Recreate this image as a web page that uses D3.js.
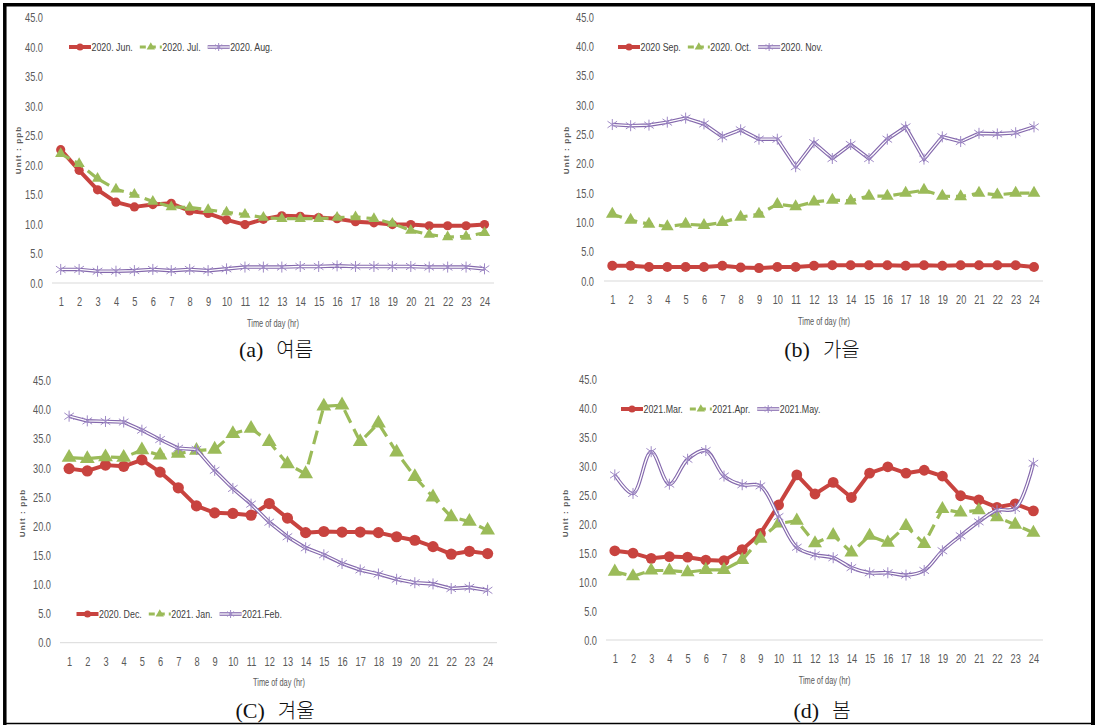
<!DOCTYPE html>
<html><head><meta charset="utf-8">
<script src="https://cdn.jsdelivr.net/npm/d3@7"></script>
<style>
body{margin:0;background:#fff;}
svg{display:block;}
.ax text{font-family:"Liberation Sans",Arial,sans-serif;fill:#595959;}
.leg{font-family:"Liberation Sans",Arial,sans-serif;font-size:11.5px;fill:#404040;}
.ttl{font-family:"Liberation Sans",Arial,sans-serif;font-size:10px;fill:#595959;}
.unit{font-family:"Liberation Sans",Arial,sans-serif;font-size:8px;font-weight:bold;fill:#595959;}
.cap{font-family:"Liberation Serif","Noto Sans CJK KR",serif;font-size:22px;fill:#111;}
</style></head><body>
<svg id="chart" width="1097" height="727"></svg>
<script>
// ---- data ----
const hours = [1,2,3,4,5,6,7,8,9,10,11,12,13,14,15,16,17,18,19,20,21,22,23,24];
const yTicks = [0,5,10,15,20,25,30,35,40,45];

const summerNames = ["2020. Jun.","2020. Jul.","2020. Aug."];
const jun = [22.6,19.1,15.8,13.7,12.9,13.3,13.5,12.2,11.8,10.7,9.9,10.8,11.4,11.3,11.1,10.9,10.4,10.2,9.9,9.9,9.7,9.7,9.7,9.9];
const jul = [21.9,20.2,17.7,15.9,15.0,13.8,12.9,12.8,12.4,12.0,11.6,11.1,10.9,10.9,10.9,11.1,11.2,10.9,10.1,8.9,8.2,7.8,7.9,8.5];
const aug = [2.3,2.3,2.0,2.0,2.1,2.3,2.1,2.3,2.1,2.4,2.7,2.7,2.7,2.8,2.8,2.9,2.8,2.8,2.8,2.8,2.7,2.7,2.7,2.4];

const autumnNames = ["2020 Sep.","2020. Oct.","2020. Nov."];
const sep = [2.6,2.6,2.4,2.4,2.4,2.4,2.6,2.3,2.2,2.4,2.4,2.6,2.7,2.7,2.7,2.7,2.6,2.7,2.6,2.7,2.7,2.7,2.7,2.4];
const oct = [11.4,10.4,9.7,9.3,9.7,9.5,10.0,10.9,11.4,13.1,12.7,13.5,13.8,13.7,14.5,14.5,15.0,15.5,14.5,14.4,15.0,14.7,15.0,15.0];
const nov = [26.7,26.5,26.6,27.1,27.8,26.8,24.6,25.8,24.2,24.2,19.5,23.6,20.9,23.3,20.9,24.2,26.3,20.8,24.6,23.8,25.2,25.1,25.3,26.3];

const winterNames = ["2020. Dec.","2021. Jan.","2021.Feb."];
const dec = [29.9,29.5,30.5,30.3,31.4,29.3,26.6,23.5,22.3,22.2,21.9,23.9,21.4,18.9,19.1,19.0,19.0,18.9,18.2,17.6,16.5,15.2,15.7,15.3];
const jan = [31.8,31.6,31.9,31.8,33.1,32.2,32.5,33.0,33.2,35.9,36.8,34.5,30.7,29.0,40.6,40.8,34.5,37.7,32.7,28.5,25.0,21.6,20.8,19.3];
const feb = [38.9,38.1,38.0,37.9,36.5,34.9,33.4,33.2,29.6,26.5,23.8,20.7,18.2,16.3,15.1,13.6,12.5,11.8,10.9,10.3,10.1,9.3,9.5,9.0];

const springNames = ["2021.Mar.","2021.Apr.","2021.May."];
const mar = [15.4,15.0,14.1,14.4,14.3,13.8,13.7,15.6,18.4,23.3,28.5,25.2,27.2,24.6,28.8,29.9,28.8,29.3,28.3,24.9,24.2,22.9,23.5,22.3];
const apr = [11.8,11.0,12.0,12.0,11.7,12.1,12.1,13.8,17.5,20.1,20.6,16.7,18.1,15.1,18.0,16.8,19.7,16.6,22.6,22.0,22.4,21.2,19.9,18.5];
const may = [28.5,25.3,32.5,26.9,31.2,32.7,28.3,26.8,26.6,21.3,16.0,14.7,14.2,12.5,11.6,11.6,11.2,12.0,15.4,18.0,20.4,22.4,22.7,30.5];

const captions = [["(a)","여름"],["(b)","가을"],["(C)","겨울"],["(d)","봄"]];

// ---- styles ----
const RED = "#C8433F", GREEN = "#9BBB59", PURPLE = "#8468AC", PURPLE_M = "#9F8AC6";
const SQ = 0.74; // horizontal squeeze of chart text

const svg = d3.select("#chart");

// frame
svg.append("rect").attr("x",4.5).attr("y",4.5).attr("width",1088).attr("height",719)
  .attr("fill","none").attr("stroke","#000").attr("stroke-width",1.5);
svg.append("line").attr("x1",3).attr("x2",1095).attr("y1",4.8).attr("y2",4.8).attr("stroke","#000").attr("stroke-width",3.5);
svg.append("line").attr("x1",4.8).attr("x2",4.8).attr("y1",3).attr("y2",725).attr("stroke","#000").attr("stroke-width",3.5);
svg.append("line").attr("x1",1093).attr("x2",1093).attr("y1",3).attr("y2",725).attr("stroke","#000").attr("stroke-width",4);

const panels = [
  {names:summerNames, series:[jun,jul,aug], cap:captions[0], x1:60.7, x24:484.5, y0:283, y45:17.5, bx:[52,494], yl:43, unitX:18.6, unitY:150, tX:273, tY:323, capX:276, capY:357, legX:69, legY:47, smooth:false, r:4.6, tri:55, dash:"10,6"},
  {names:autumnNames, series:[sep,oct,nov], cap:captions[1], x1:612.3, x24:1034, y0:281, y45:17.3, bx:[604,1043], yl:594, unitX:566, unitY:150, tX:824, tY:321, capX:822, capY:357, legX:618, legY:47, smooth:false, r:5, tri:70, dash:"10,6"},
  {names:winterNames, series:[dec,jan,feb], cap:captions[2], x1:69.1, x24:487.6, y0:642.7, y45:380.7, bx:[60,497], yl:51, unitX:22, unitY:513, tX:279, tY:682, capX:275, capY:718, legX:76.5, legY:614, smooth:false, r:5.6, tri:95, dash:"14,7"},
  {names:springNames, series:[mar,apr,may], cap:captions[3], x1:614.8, x24:1033.4, y0:640, y45:379.3, bx:[606,1043], yl:597, unitX:565, unitY:513, tX:824.6, tY:680, capX:822, capY:718, legX:621, legY:409, smooth:true, r:5.4, tri:85, dash:"12,7"}
];

function asterisk(g, x, y, s){
  const p = d3.path();
  p.moveTo(x, y-s); p.lineTo(x, y+s);
  p.moveTo(x-s*0.87, y-s*0.6); p.lineTo(x+s*0.87, y+s*0.6);
  p.moveTo(x-s*0.87, y+s*0.6); p.lineTo(x+s*0.87, y-s*0.6);
  g.append("path").attr("d", p.toString()).attr("stroke", PURPLE_M).attr("stroke-width",1).attr("fill","none");
}

function drawPanel(cfg){
  const x = d3.scalePoint().domain(hours).range([cfg.x1, cfg.x24]);
  const y = d3.scaleLinear().domain([0,45]).range([cfg.y0, cfg.y45]);
  const g = svg.append("g");

  // baseline
  g.append("line").attr("x1",cfg.bx[0]).attr("x2",cfg.bx[1]).attr("y1",y(0)).attr("y2",y(0))
    .attr("stroke","#D9D9D9").attr("stroke-width",1);

  // y axis
  const ya = g.append("g").attr("class","ax").attr("transform",`translate(${cfg.yl},0)`)
    .call(d3.axisLeft(y).tickValues(yTicks).tickFormat(d3.format(".1f")).tickSize(0).tickPadding(0));
  ya.select(".domain").remove();
  ya.selectAll("text").style("font-size","12.5px").attr("transform",`scale(${SQ},1)`);
  // x axis
  const xa = g.append("g").attr("class","ax").attr("transform",`translate(0,${cfg.y0})`)
    .call(d3.axisBottom(x).tickSize(0).tickPadding(14));
  xa.select(".domain").remove();
  xa.selectAll("text").style("font-size","12.5px").attr("transform",`scale(${SQ},1)`);

  // titles
  g.append("text").attr("class","ttl").attr("transform",`translate(${cfg.tX},${cfg.tY}) scale(${SQ},1)`).attr("dy","0.35em")
    .attr("text-anchor","middle").text("Time of day (hr)");
  g.append("text").attr("class","unit").attr("transform",`translate(${cfg.unitX},${cfg.unitY}) rotate(-90)`)
    .attr("dy","0.35em").attr("text-anchor","middle").attr("letter-spacing","1.1px").text("Unit : ppb");
  const cap = g.append("text").attr("class","cap").attr("x",cfg.capX).attr("y",cfg.capY).attr("text-anchor","middle");
  cap.append("tspan").text(cfg.cap[0]);
  cap.append("tspan").attr("dx",13).style("font-family","'Noto Sans CJK KR',sans-serif").style("font-weight","300").style("font-size","20px").text(cfg.cap[1]);

  const pts = s => s.map((v,i)=>[x(hours[i]), y(v)]);
  const lineStraight = d3.line();
  const lineSmooth = d3.line().curve(d3.curveCatmullRom.alpha(0.5));

  const [s0,s1,s2] = cfg.series;
  // series 1: red solid with circles
  g.append("path").attr("d", lineStraight(pts(s0))).attr("fill","none").attr("stroke",RED)
    .attr("stroke-width",4).attr("stroke-linejoin","round");
  g.selectAll(null).data(pts(s0)).join("circle").attr("cx",d=>d[0]).attr("cy",d=>d[1]).attr("r",cfg.r).attr("fill",RED);

  // series 2: green dashed with triangles
  g.append("path").attr("d", lineStraight(pts(s1))).attr("fill","none").attr("stroke",GREEN)
    .attr("stroke-width",3.2).attr("stroke-dasharray",cfg.dash);
  const tri = d3.symbol().type(d3.symbolTriangle).size(cfg.tri);
  g.selectAll(null).data(pts(s1)).join("path").attr("d",tri)
    .attr("transform",d=>`translate(${d[0]},${d[1]})`).attr("fill",GREEN);

  // series 3: purple double line with asterisks
  const lp = cfg.smooth ? lineSmooth : lineStraight;
  g.append("path").attr("d", lp(pts(s2))).attr("fill","none").attr("stroke",PURPLE).attr("stroke-width",3.6);
  g.append("path").attr("d", lp(pts(s2))).attr("fill","none").attr("stroke","#fff").attr("stroke-width",1.3);
  pts(s2).forEach(d=>asterisk(g,d[0],d[1],5.5));

  // legend
  let lx = cfg.legX; const ly = cfg.legY;
  cfg.names.forEach((nm,i)=>{
    const segW = 22;
    if(i===0){
      g.append("line").attr("x1",lx).attr("x2",lx+segW).attr("y1",ly).attr("y2",ly).attr("stroke",RED).attr("stroke-width",4);
      g.append("circle").attr("cx",lx+segW/2).attr("cy",ly).attr("r",3.5).attr("fill",RED);
    } else if(i===1){
      g.append("line").attr("x1",lx).attr("x2",lx+segW).attr("y1",ly).attr("y2",ly).attr("stroke",GREEN).attr("stroke-width",3).attr("stroke-dasharray","6,4");
      g.append("path").attr("d",d3.symbol().type(d3.symbolTriangle).size(30)).attr("transform",`translate(${lx+segW/2},${ly})`).attr("fill",GREEN);
    } else {
      g.append("line").attr("x1",lx).attr("x2",lx+segW).attr("y1",ly).attr("y2",ly).attr("stroke",PURPLE).attr("stroke-width",3.6);
      g.append("line").attr("x1",lx).attr("x2",lx+segW).attr("y1",ly).attr("y2",ly).attr("stroke","#fff").attr("stroke-width",1.3);
      asterisk(g,lx+segW/2,ly,4);
    }
    const t = g.append("text").attr("class","leg").attr("transform",`translate(${lx+segW+0.5},${ly}) scale(0.77,1)`).attr("dy","0.35em").text(nm);
    lx = lx + segW + 0.5 + t.node().getComputedTextLength()*0.77 + 7;
  });
}
panels.forEach(drawPanel);
</script>
</body></html>
